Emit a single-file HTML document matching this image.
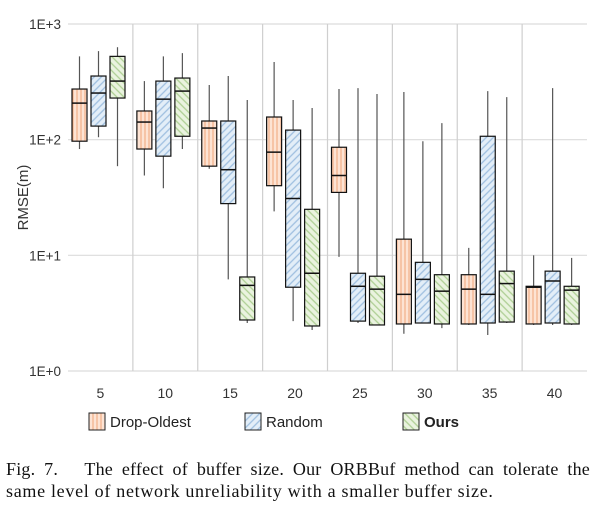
<!DOCTYPE html>
<html><head><meta charset="utf-8"><style>
body{margin:0;background:#fff;width:603px;height:512px;overflow:hidden;position:relative}
.cap{position:absolute;left:6px;width:584px;font-family:"Liberation Serif",serif;font-size:18px;letter-spacing:0.7px;color:#111;white-space:nowrap}
</style></head><body>
<svg id="chart" width="603" height="445" style="position:absolute;left:0;top:0" font-family="Liberation Sans, sans-serif">
<defs>
<pattern id="pO" width="4" height="4" patternUnits="userSpaceOnUse"><rect width="4" height="4" fill="#fde3d3"/><line x1="1" y1="0" x2="1" y2="4" stroke="#f0a47a" stroke-width="1"/></pattern>
<pattern id="pB" width="5" height="5" patternUnits="userSpaceOnUse" patternTransform="rotate(-45)"><rect width="5" height="5" fill="#e3eef8"/><line x1="0" y1="1" x2="5" y2="1" stroke="#9fbfe0" stroke-width="1.3"/></pattern>
<pattern id="pG" width="5" height="5" patternUnits="userSpaceOnUse" patternTransform="rotate(45)"><rect width="5" height="5" fill="#eaf3df"/><line x1="0" y1="1" x2="5" y2="1" stroke="#aecf94" stroke-width="1.3"/></pattern>
</defs>
<g id="grid"></g><g id="marks"></g><g id="labels"></g>
</svg>
<div class="cap" style="top:459px;letter-spacing:0.2px;text-align:justify;text-align-last:justify;white-space:normal">Fig. 7.&nbsp;&nbsp; The effect of buffer size. Our ORBBuf method can tolerate the</div>
<div class="cap" style="top:481px">same level of network unreliability with a smaller buffer size.</div>
<script>
const categories=["5","10","15","20","25","30","35","40"];
const seriesNames=["Drop-Oldest","Random","Ours"];
const yTicks=[1,10,100,1000];
const yTickLabels=["1E+0","1E+1","1E+2","1E+3"];
// each entry: [whiskerLow, Q1, median, Q3, whiskerHigh]
const dropOldest=[[83,97,207,274,525],[49,83,142,177,321],[56,59,126,145,297],[24,40,78,157,469],[9.7,35,49,86,274],[2.1,2.55,4.6,13.8,258],[2.5,2.55,5.1,6.8,11.6],[2.5,2.55,5.3,5.4,10]];
const random=[[105,131,253,355,583],[38,72,224,321,525],[6.2,28,55,145,355],[2.7,5.3,31,121,220],[2.6,2.7,5.4,7.0,279],[2.6,2.6,6.2,8.7,97],[2.05,2.6,4.6,107,263],[2.5,2.6,6.0,7.3,279]];
const ours=[[59,229,321,525,630],[83,107,263,341,560],[2.6,2.76,5.5,6.5,220],[2.26,2.45,7.0,25,188],[2.5,2.5,5.1,6.6,248],[2.35,2.55,4.9,6.8,139],[2.6,2.65,5.7,7.3,233],[2.5,2.55,5.0,5.4,9.5]];
const allSeries=[dropOldest,random,ours];
const fills=["url(#pO)","url(#pB)","url(#pG)"];
const NS="http://www.w3.org/2000/svg";
const x0=68,x1=587,yTop=24,yBot=371;
const gw=(x1-x0)/categories.length;
const y=v=>yBot-(yBot-yTop)*Math.log10(v)/3;
const offs=[4,23,42],bw=15;
function mk(tag,attrs,parent){const e=document.createElementNS(NS,tag);for(const k in attrs)e.setAttribute(k,attrs[k]);parent.appendChild(e);return e;}
const grid=document.getElementById('grid'),marks=document.getElementById('marks'),labels=document.getElementById('labels');
yTicks.forEach((t,i)=>{
  const l=mk('line',{x1:x0,x2:x1,y1:y(t),y2:y(t),stroke:'#dcdcdc','stroke-width':1.2},grid);
  
  
  const tx=mk('text',{x:61,y:y(t)+5,'text-anchor':'end','font-size':13.5,fill:'#333'},labels);
  tx.textContent=yTickLabels[i];
  
  
});
for(let i=1;i<categories.length;i++){
  const l=mk('line',{x1:x0+i*gw,x2:x0+i*gw,y1:yTop,y2:yBot,stroke:'#cfcfcf','stroke-width':1.2},grid);
  
  
}
categories.forEach((c,i)=>{
  const tx=mk('text',{x:x0+i*gw+gw/2,y:398,'text-anchor':'middle','font-size':14,fill:'#333'},labels);
  tx.textContent=c;
  
  
});
const yt=mk('text',{x:0,y:0,'text-anchor':'middle','font-size':15,fill:'#333',transform:'translate(28,'+(y(Math.sqrt(1000)))+') rotate(-90)'},labels);
yt.textContent='RMSE(m)';


allSeries.forEach((s,si)=>{
  s.forEach((d,ci)=>{
    const g=mk('g',{},marks);
    
    
    const bx=x0+ci*gw+offs[si],cx=bx+bw/2;
    mk('line',{x1:cx,x2:cx,y1:y(d[0]),y2:y(d[4]),stroke:'#555','stroke-width':1.2},g);
    mk('rect',{x:bx,y:y(d[3]),width:bw,height:y(d[1])-y(d[3]),fill:fills[si],stroke:'#111','stroke-width':1.2},g);
    mk('line',{x1:bx,x2:bx+bw,y1:y(d[2]),y2:y(d[2]),stroke:'#111','stroke-width':1.5},g);
  });
});
const leg=[[89,110,'Drop-Oldest','normal'],[245,266,'Random','normal'],[403,424,'Ours','bold']];
leg.forEach((L,i)=>{
  const g=mk('g',{},labels);
  
  
  mk('rect',{x:L[0],y:413,width:16,height:17,fill:fills[i],stroke:'#222','stroke-width':1},g);
  const t=mk('text',{x:L[1],y:427,'font-size':15,fill:'#222','font-weight':L[3]},g);
  t.textContent=L[2];
});
</script>
</body></html>
